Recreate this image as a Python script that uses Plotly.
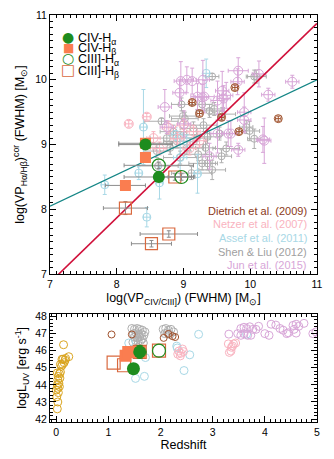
import plotly.graph_objects as go

# ---------------- top panel data ----------------
# fit lines
line_x = [7.0, 11.0]
red_y = [6.87, 10.87]
teal_y = [8.05, 10.0]

# main samples (x = log VP CIV/CIII], y = log VP Ha/Hb)
civ_ha_x = [8.43, 8.63]; civ_ha_y = [9.0, 8.5]; civ_ha_ex = [0.4, 0.52]; civ_ha_ey = [0.03, 0.03]
civ_hb_x = [8.43, 8.43, 8.13]; civ_hb_y = [9.02, 8.8, 8.37]; civ_hb_ex = [0.4, 0.0, 0.3]; civ_hb_ey = [0.03, 0.0, 0.03]
ciii_ha_x = [8.63, 8.97]; ciii_ha_y = [8.68, 8.5]; ciii_ha_ex = [0.52, 0.2]; ciii_ha_ey = [0.05, 0.05]
ciii_hb_x = [8.87, 8.13, 8.78, 8.52]; ciii_hb_y = [8.5, 8.02, 7.62, 7.47]
ciii_hb_ex = [0.25, 0.33, 0.43, 0.3]; ciii_hb_ey = [0.05, 0.1, 0.05, 0.05]

# literature samples
shen_x = [8.67, 8.97, 8.99, 9.43, 9.28, 10.09, 9.99, 9.58, 10.06, 9.39, 9.46, 9.94, 10.06, 9.36, 9.54,
          9.64, 9.57, 9.43, 9.36, 9.28, 9.12, 8.62, 8.9, 9.0, 9.1, 9.2, 9.05, 8.8, 9.15, 8.85, 9.3, 8.75, 9.02, 8.6,
          9.22, 9.33, 8.95]
shen_y = [9.36, 9.62, 9.44, 10.05, 9.62, 10.05, 9.21, 9.47, 10.05, 9.52, 9.55, 9.27, 9.09, 9.12, 9.17,
          8.94, 8.82, 8.61, 8.71, 8.71, 8.56, 8.67, 9.05, 9.15, 9.0, 9.1, 8.95, 8.95, 9.25, 9.2, 9.3, 9.1, 9.4, 8.9,
          8.85, 8.95, 8.8]
shen_ex = [0.25, 0.15, 0.2, 0.1, 0.15, 0.15, 0.15, 0.2, 0.1, 0.2, 0.15, 0.1, 0.1, 0.2, 0.15,
           0.2, 0.15, 0.2, 0.15, 0.2, 0.3, 0.3, 0.2, 0.2, 0.2, 0.2, 0.25, 0.3, 0.2, 0.2, 0.2, 0.25, 0.2, 0.2,
           0.2, 0.15, 0.25]
shen_ey = [0.05, 0.1, 0.08, 0.05, 0.1, 0.1, 0.15, 0.1, 0.1, 0.1, 0.1, 0.1, 0.15, 0.1, 0.1,
           0.1, 0.1, 0.15, 0.1, 0.1, 0.1, 0.1, 0.1, 0.1, 0.1, 0.1, 0.1, 0.1, 0.1, 0.1, 0.1, 0.1, 0.1, 0.1,
           0.1, 0.1, 0.1]

jun_x = [8.72, 8.96, 9.05, 9.29, 8.94, 9.13, 9.21, 9.31, 9.58, 9.64, 9.51, 9.82, 10.13, 10.63, 10.27,
         9.91, 9.67, 10.19, 9.82, 9.01, 8.75, 9.6, 9.28, 9.81, 9.91, 9.71, 9.51, 9.39, 10.21]
jun_y = [9.58, 9.98, 10.0, 10.0, 9.8, 9.98, 9.74, 9.74, 9.83, 9.76, 9.68, 10.14, 10.09, 9.97, 9.77,
         9.38, 9.17, 9.08, 8.92, 9.32, 9.27, 9.71, 9.73, 9.97, 9.5, 9.17, 9.17, 8.82, 9.06]
jun_ex = [0.1, 0.1, 0.1, 0.1, 0.1, 0.1, 0.1, 0.15, 0.1, 0.1, 0.1, 0.15, 0.1, 0.1, 0.1,
          0.1, 0.1, 0.1, 0.1, 0.1, 0.1, 0.1, 0.1, 0.1, 0.1, 0.1, 0.1, 0.1, 0.1]
jun_ey = [0.27, 0.3, 0.2, 0.3, 0.2, 0.2, 0.2, 0.25, 0.3, 0.2, 0.3, 0.2, 0.2, 0.1, 0.1,
          0.2, 0.2, 0.2, 0.1, 0.2, 0.1, 0.2, 0.2, 0.2, 0.3, 0.2, 0.3, 0.2, 0.35]

netzer_x = [8.18, 8.45, 8.78, 8.64, 8.55, 8.91, 9.09, 9.24, 9.0, 9.15]
netzer_y = [9.32, 9.43, 9.26, 8.94, 9.1, 9.09, 8.94, 9.06, 9.3, 9.2]
netzer_ex = [0.05, 0.05, 0.1, 0.1, 0.1, 0.1, 0.1, 0.1, 0.1, 0.1]
netzer_ey = [0.05, 0.05, 0.1, 0.1, 0.1, 0.1, 0.1, 0.1, 0.1, 0.1]

assef_x = [8.4, 8.88, 7.82, 8.45, 8.33, 8.64, 9.21, 9.34, 9.05, 8.95]
assef_y = [9.27, 9.16, 8.38, 7.88, 8.56, 8.41, 8.55, 10.1, 9.05, 8.8]
assef_ex = [0.05, 0.1, 0.05, 0.05, 0.05, 0.05, 0.05, 0.05, 0.1, 0.1]
assef_ey = [0.58, 0.1, 0.15, 0.15, 0.1, 0.25, 0.3, 0.22, 0.1, 0.3]

dietrich_x = [9.13, 9.24, 9.57, 9.77, 9.83, 10.42]
dietrich_y = [9.65, 9.48, 9.42, 9.88, 9.2, 9.4]
dietrich_ex = [0.04, 0.04, 0.04, 0.04, 0.04, 0.04]
dietrich_ey = [0.04, 0.04, 0.04, 0.04, 0.04, 0.04]

# ---------------- bottom panel data (redshift, log L_UV) ----------------
rm_z = [0.02, 0.03, 0.01, 0.04, 0.0, 0.03, 0.06, 0.02, 0.05, 0.03, 0.07, 0.04, 0.06, 0.02, 0.08,
        0.1, 0.12, 0.15, 0.13, 0.17, 0.18, 0.24, 0.14, 0.11, 0.08]
rm_L = [42.6, 43.0, 43.3, 43.55, 43.7, 43.8, 43.9, 44.0, 44.1, 44.3, 44.4, 44.5, 44.65, 44.7, 44.75,
        45.1, 45.2, 45.3, 45.5, 45.45, 45.55, 45.65, 46.35, 45.5, 45.2]

shen_z = [1.45, 1.5, 1.55, 1.6, 1.65, 1.7, 1.48, 1.53, 1.58, 1.63, 1.68, 1.5, 1.55, 1.6, 1.65, 1.52, 1.57,
          1.62, 1.47, 1.67, 2.05, 2.1, 2.15, 2.2, 2.08, 2.13, 2.18, 2.25]
shen_L = [47.3, 47.25, 47.3, 47.25, 47.2, 47.1, 47.0, 47.05, 46.95, 47.0, 46.9, 46.8, 46.75, 46.8, 46.7, 46.6,
          46.55, 46.6, 46.5, 46.45, 47.25, 47.3, 47.2, 47.25, 47.0, 47.05, 46.95, 47.1]

assef_z = [1.39, 1.52, 1.69, 1.71, 2.31, 2.32, 2.45, 2.56, 2.73, 3.65]
assef_L = [46.45, 44.38, 44.5, 45.6, 46.27, 46.16, 44.84, 45.76, 46.96, 46.97]

netzer_z = [2.33, 2.35, 2.38, 2.42, 2.44, 2.39, 3.3, 3.35, 3.36, 3.38, 3.4, 3.44, 3.32]
netzer_L = [45.8, 45.98, 45.7, 46.1, 45.95, 45.85, 46.4, 45.98, 46.2, 46.27, 46.4, 46.45, 45.9]

jun_z = [3.31, 3.48, 3.54, 3.6, 3.65, 3.71, 3.77, 3.88, 3.6, 3.67, 3.73, 3.83, 4.12, 4.21, 4.0, 4.08,
         4.29, 4.35, 4.42, 4.45, 4.54, 4.6, 4.65, 4.75, 4.56, 4.6, 4.92, 4.98, 3.54]
jun_L = [46.97, 47.0, 47.3, 47.37, 47.3, 47.4, 47.25, 47.43, 47.0, 46.9, 46.9, 47.25, 47.55, 47.5, 47.0, 46.9,
         47.3, 47.2, 47.0, 47.05, 47.48, 47.55, 47.43, 47.6, 47.25, 47.03, 47.0, 47.1, 46.9]

dietrich_z = [1.06, 1.45, 2.06, 2.15, 2.23, 2.28]
dietrich_L = [46.95, 46.95, 46.75, 46.98, 46.85, 46.8]

civ_ha_z = [1.48, 1.6]; civ_ha_L = [44.95, 45.93]
civ_hb_z = [1.33, 1.38, 1.6]; civ_hb_L = [45.7, 45.93, 45.93]
ciii_ha_z = [1.6, 1.97]; ciii_ha_L = [45.93, 46.0]
ciii_hb_z = [1.1, 1.3, 1.97, 1.6]; ciii_hb_L = [45.3, 45.15, 46.0, 45.93]

# ---------------- styles ----------------
GREEN = "#1E8C1E"
CORAL = "#FA7D50"
OPENSQ = "#D9693F"
GRAY = "#AFAFAF"
PLUM = "#D8A6D8"
PINK = "#F9B3C0"
BLUE = "#A8D8E6"
BROWN = "#A0522D"
GOLD = "#DAA520"
FONT = "Liberation Sans, Arial, sans-serif"

fig = go.Figure()


def lit(x, y, ex, ey, color, size, xa="x", ya="y"):
    kw = {}
    if ex is not None:
        kw["error_x"] = dict(type="data", array=ex, color=color, thickness=1, width=2)
        kw["error_y"] = dict(type="data", array=ey, color=color, thickness=1, width=2)
    fig.add_trace(go.Scatter(x=x, y=y, mode="markers", xaxis=xa, yaxis=ya, showlegend=False,
                             marker=dict(symbol="circle-open", size=size, color=color, line=dict(width=1)),
                             **kw))


# top panel literature
lit(shen_x, shen_y, shen_ex, shen_ey, GRAY, 7)
lit(assef_x, assef_y, assef_ex, assef_ey, BLUE, 8)
lit(netzer_x, netzer_y, netzer_ex, netzer_ey, PINK, 9)
lit(jun_x, jun_y, jun_ex, jun_ey, PLUM, 9)
lit(dietrich_x, dietrich_y, dietrich_ex, dietrich_ey, BROWN, 8)

# fit lines
fig.add_trace(go.Scatter(x=line_x, y=teal_y, mode="lines", line=dict(color="#138585", width=1.3), showlegend=False))
fig.add_trace(go.Scatter(x=line_x, y=red_y, mode="lines", line=dict(color="#D0103A", width=1.6), showlegend=False))

EB = "#8C8C8C"


def main(x, y, ex, ey, symbol, color, size, lw=0, xa="x", ya="y"):
    kw = {}
    if ex is not None:
        kw["error_x"] = dict(type="data", array=ex, color=EB, thickness=1, width=2)
        kw["error_y"] = dict(type="data", array=ey, color=EB, thickness=1, width=2)
    fig.add_trace(go.Scatter(x=x, y=y, mode="markers", xaxis=xa, yaxis=ya, showlegend=False,
                             marker=dict(symbol=symbol, size=size, color=color, line=dict(width=lw, color=color)),
                             **kw))


main(ciii_hb_x, ciii_hb_y, ciii_hb_ex, ciii_hb_ey, "square-open", OPENSQ, 12, 1.2)
main(ciii_ha_x, ciii_ha_y, ciii_ha_ex, ciii_ha_ey, "circle-open", GREEN, 13, 1.2)
main(civ_hb_x, civ_hb_y, civ_hb_ex, civ_hb_ey, "square", CORAL, 11)
main(civ_ha_x, civ_ha_y, civ_ha_ex, civ_ha_ey, "circle", GREEN, 12)

# bottom panel
lit(rm_z, rm_L, None, None, GOLD, 8, "x2", "y2")
lit(shen_z, shen_L, None, None, GRAY, 8, "x2", "y2")
lit(assef_z, assef_L, None, None, BLUE, 8, "x2", "y2")
lit(netzer_z, netzer_L, None, None, PINK, 8, "x2", "y2")
lit(jun_z, jun_L, None, None, PLUM, 8, "x2", "y2")
lit(dietrich_z, dietrich_L, None, None, BROWN, 7, "x2", "y2")
main(ciii_hb_z, ciii_hb_L, None, None, "square-open", OPENSQ, 13, 1.2, "x2", "y2")
main(ciii_ha_z, ciii_ha_L, None, None, "circle-open", GREEN, 13, 1.2, "x2", "y2")
main(civ_hb_z, civ_hb_L, None, None, "square", CORAL, 12, 0, "x2", "y2")
main(civ_ha_z, civ_ha_L, None, None, "circle", GREEN, 13, 0, "x2", "y2")

axis_common = dict(showgrid=False, zeroline=False, showline=True, linecolor="black", linewidth=1,
                   mirror="allticks", ticks="inside", ticklen=6, tickcolor="black",
                   tickfont=dict(size=10.5, color="black", family=FONT))

fig.update_layout(
    width=334, height=459,
    margin=dict(l=50, r=17, t=9, b=37),
    paper_bgcolor="white", plot_bgcolor="white",
    font=dict(family=FONT, color="black"),
    showlegend=False,
    xaxis=dict(domain=[0, 1], anchor="y", range=[7, 11], dtick=1, tick0=7,
               minor=dict(dtick=0.1, ticklen=3, ticks="inside", tickcolor="black"),
               title=dict(text="log(VP<sub>CIV/CIII]</sub>) (FWHM) [M<sub>⊙</sub>]", font=dict(size=12.5), standoff=4),
               **axis_common),
    yaxis=dict(domain=[0.3632, 1], anchor="x", range=[7, 11], dtick=1, tick0=7,
               minor=dict(dtick=0.1, ticklen=3, ticks="inside", tickcolor="black"),
               title=dict(text="log(VP<sub>Hα/Hβ</sub>)<sup>cor</sup> (FWHM) [M<sub>⊙</sub>]", font=dict(size=12.5), standoff=7),
               **axis_common),
    xaxis2=dict(domain=[0, 1], anchor="y2", range=[-0.12, 5.0], dtick=1, tick0=0,
                minor=dict(dtick=0.1, ticklen=3, ticks="inside", tickcolor="black"),
                title=dict(text="Redshift", font=dict(size=12.5), standoff=2),
                **axis_common),
    yaxis2=dict(domain=[0, 0.2663], anchor="x2", range=[41.83, 48.17], dtick=1, tick0=42,
                minor=dict(dtick=0.2, ticklen=3, ticks="inside", tickcolor="black"),
                title=dict(text="logL<sub>UV</sub> [erg s<sup>-1</sup>]", font=dict(size=12.5), standoff=5),
                **axis_common),
)


def px2paper(px, py):
    return (px - 50) / 267.0, (422 - py) / 413.0


# legend (top-left) built from text glyphs
leg_labels = ["CIV-H<sub>α</sub>", "CIV-H<sub>β</sub>", "CIII]-H<sub>α</sub>", "CIII]-H<sub>β</sub>"]
leg_glyphs = ["●", "■", "○", "□"]
leg_colors = [GREEN, CORAL, GREEN, OPENSQ]
leg_gsize = [14, 12, 14, 15]
leg_rows = [31, 42, 53, 65]
for lab, g, c, gs, ry in zip(leg_labels, leg_glyphs, leg_colors, leg_gsize, leg_rows):
    gx, gy = px2paper(68, ry)
    fig.add_annotation(x=gx, y=gy, xref="paper", yref="paper", text=g, showarrow=False,
                       xanchor="center", yanchor="middle", font=dict(size=gs, color=c, family="DejaVu Sans"))
    tx, ty = px2paper(76, ry + 2)
    fig.add_annotation(x=tx, y=ty, xref="paper", yref="paper", text=lab, showarrow=False,
                       xanchor="left", yanchor="middle", font=dict(size=12.5, color="black", family=FONT))

# literature key (lower right of top panel)
ref_names = ["Dietrich et al. (2009)", "Netzer et al. (2007)", "Assef et al. (2011)",
             "Shen &amp; Liu (2012)", "Jun et al. (2015)"]
ref_colors = ["#8B3A1A", PINK, BLUE, "#A0A0A0", PLUM]
ref_rows = [208, 221, 235, 249, 263]
for nm, c, ry in zip(ref_names, ref_colors, ref_rows):
    ax_, ay_ = px2paper(309, ry)
    fig.add_annotation(x=ax_, y=ay_, xref="paper", yref="paper", text=nm, showarrow=False,
                       xanchor="right", yanchor="middle", font=dict(size=11, color=c, family=FONT))

fig.write_html("out.html")
